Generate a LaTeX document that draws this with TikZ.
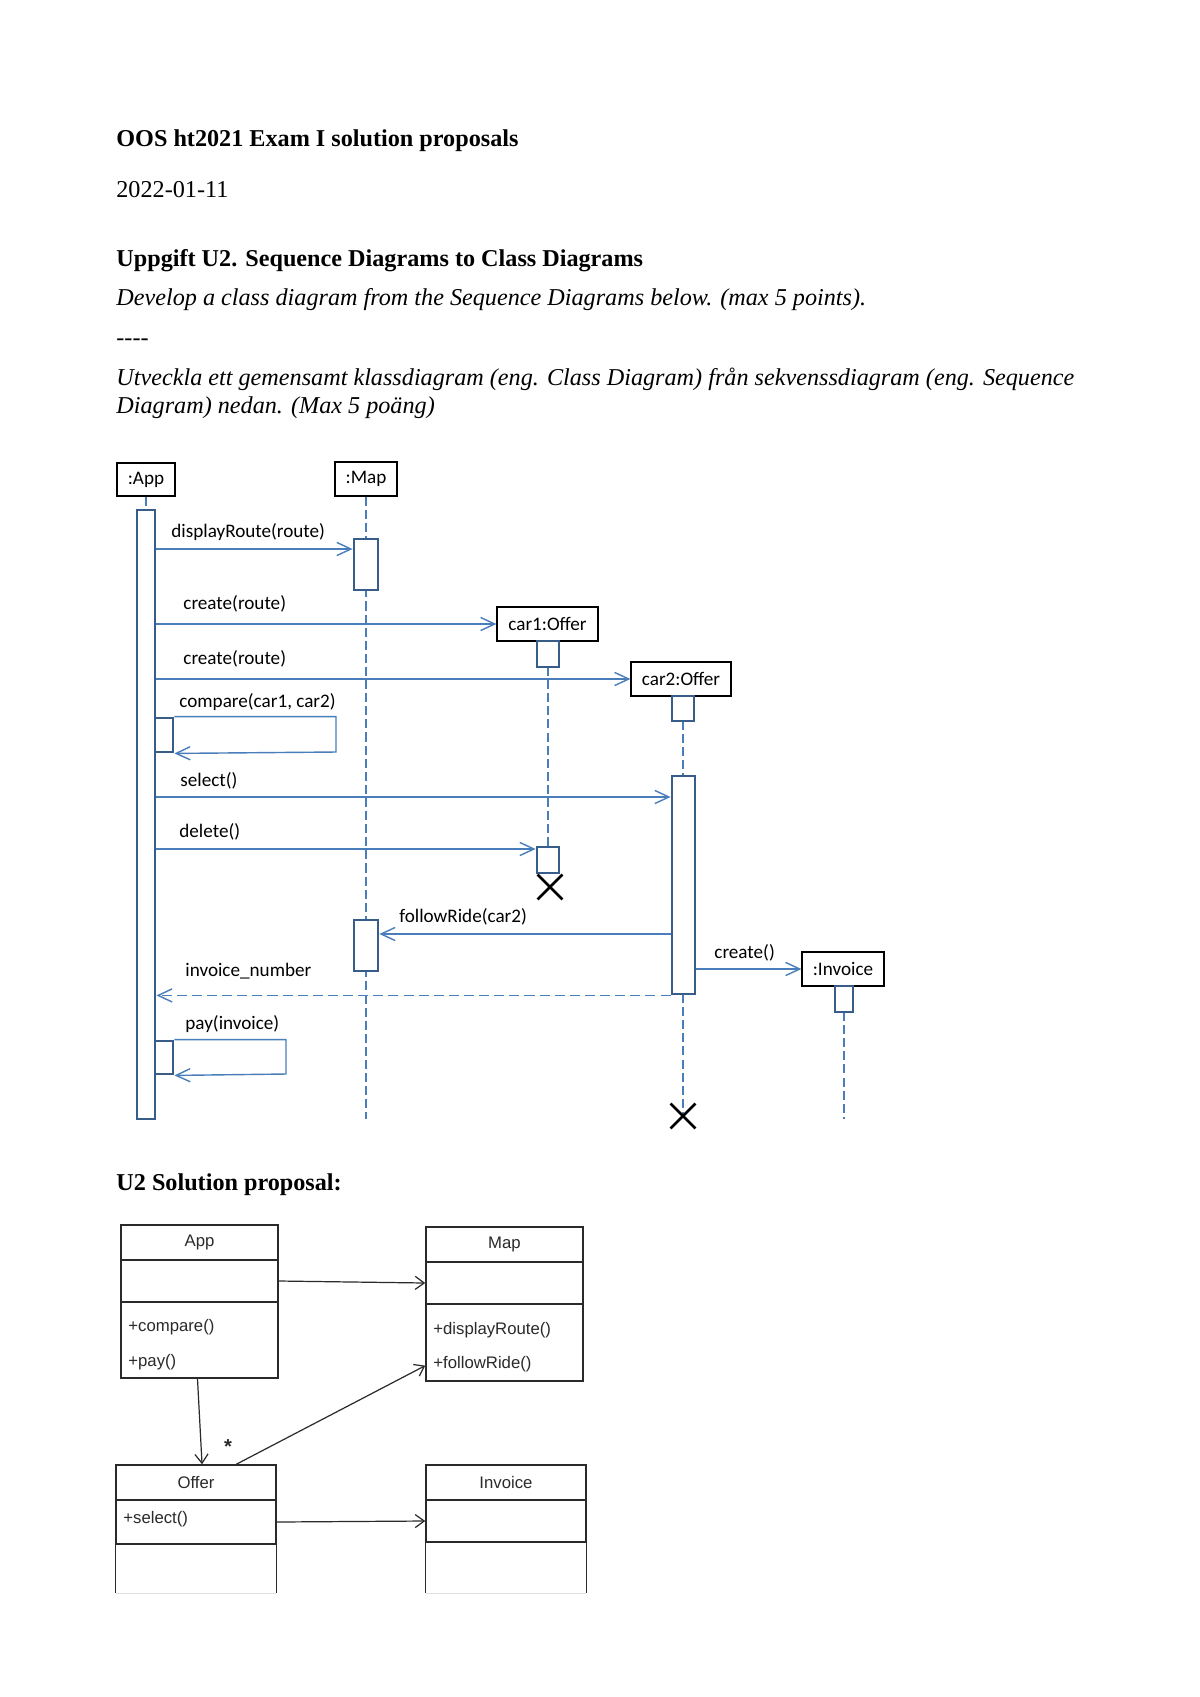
\documentclass[tikz,border=0pt]{standalone}
\usepackage{fontspec}
\setmainfont{Liberation Serif}
\newfontfamily\calibfont{Carlito}
\newfontfamily\helvfont{Liberation Sans}
\usetikzlibrary{arrows.meta,fit,shapes.misc}
\definecolor{msgblue}{HTML}{4A7EBB}
\definecolor{actblue}{HTML}{385D8A}
\definecolor{umlgray}{HTML}{2A2A2A}

\begin{document}
\begin{tikzpicture}
  [x=0.4961pt,y=-0.4961pt]
      \tikzstyle{body_text} = [anchor=base west, inner sep=0, font=\fontsize{12}{13.8}\selectfont]
      \tikzstyle{head_text} = [body_text, font=\fontsize{12}{13.8}\selectfont\bfseries]
      \tikzstyle{ital_text} = [body_text, font=\fontsize{12}{13.8}\selectfont\itshape]
      \tikzstyle{obj_font} = [inner sep=0, font=\calibfont\fontsize{9.5}{11}\selectfont]
      \tikzstyle{obj_style} = [draw=black, line width=0.6pt, fill=white, inner sep=0]
      \tikzstyle{act_style} = [draw=actblue, line width=1.4pt, fill=white, inner sep=0]
      \tikzstyle{msg_label} = [anchor=west, inner sep=0, font=\calibfont\fontsize{9.5}{11}\selectfont]
      \tikzstyle{life_style} = [draw=msgblue, line width=0.7pt, dash pattern=on 4.5pt off 2pt]
      \tikzstyle{msg_style} = [draw=msgblue, line width=0.7pt, -{Straight Barb[length=7pt,width=6.5pt]}]
      \tikzstyle{ret_style} = [msg_style, dash pattern=on 5pt off 2.5pt]
      \tikzstyle{kill_style} = [cross out, draw=black, line width=1.3pt, minimum size=11pt, inner sep=0]
      \tikzstyle{cls_font} = [inner sep=0, text=umlgray, font=\helvfont\fontsize{8.3}{10}\selectfont]
      \tikzstyle{cls_style} = [draw=umlgray, line width=0.75pt, inner sep=0]
      \tikzstyle{op_text} = [cls_font, anchor=west]
      \tikzstyle{assoc_style} = [draw=umlgray, line width=0.6pt, -{Straight Barb[length=4.5pt,width=6.5pt]}]

  \fill[white] (0,0) rectangle (1200,1697);
  \useasboundingbox (0,0) rectangle (1200,1697);

  % page text
  \node[head_text] (title) at (116,146) {OOS ht2021 Exam I solution proposals};
  \node[body_text] (date) at (116,197) {2022-01-11};
  \node[head_text] (task) at (116,266) {Uppgift U2. Sequence Diagrams to Class Diagrams};
  \node[ital_text] (taskEn) at (116,305) {Develop a class diagram from the Sequence Diagrams below. (max 5 points).};
  \node[body_text] (sep) at (116,345) {{-}{-}{-}{-}};
  \node[ital_text] (taskSv1) at (116,385) {Utveckla ett gemensamt klassdiagram (eng. Class Diagram) från sekvenssdiagram (eng. Sequence};
  \node[ital_text] (taskSv2) at (116,413) {Diagram) nedan. (Max 5 poäng)};
  \node[head_text] (sol) at (116,1190) {U2 Solution proposal:};

  % sequence diagram: objects
  \node[obj_style, fit={(117,463) (175,496)}, label={[obj_font]center:{:App}}] (appO) {};
  \node[obj_style, fit={(335,462) (397,496)}, label={[obj_font]center:{:Map}}] (mapO) {};
  \node[obj_style, fit={(497,607) (598,641)}, label={[obj_font]center:{car1:Offer}}] (car1O) {};
  \node[obj_style, fit={(631,662) (731,696)}, label={[obj_font]center:{car2:Offer}}] (car2O) {};
  \node[obj_style, fit={(802,952) (884,986)}, label={[obj_font]center:{:Invoice}}] (invO) {};

  \coordinate (mapEnd) at (366,1119);
  \coordinate (invEnd) at (844,1119);

  % lifelines
  \draw[life_style] (appO.south) -- (146,510);
  \draw[life_style] (mapO.south) -- (mapEnd);
  \draw[life_style] (548,667) -- (548,847);
  \draw[life_style] (683,721) -- (683,776);
  \draw[life_style] (683,994) -- (683,1116);
  \draw[life_style] (844,1012) -- (invEnd);

  % activations
  \node[act_style, fit={(137,510) (155,1119)}] (appA) {};
  \node[act_style, fit={(354,539) (378,590)}] (mapA1) {};
  \node[act_style, fit={(354,920) (378,971)}] (mapA2) {};
  \node[act_style, fit={(537,641) (559,667)}] (car1A1) {};
  \node[act_style, fit={(537,847) (559,873)}] (car1A2) {};
  \node[act_style, fit={(672,696) (694,721)}] (car2A1) {};
  \node[act_style, fit={(672,776) (695,994)}] (car2A2) {};
  \node[act_style, fit={(835,986) (853,1012)}] (invA) {};
  \node[act_style, fit={(155,718) (173,752)}] (cmpA) {};
  \node[act_style, fit={(155,1041) (173,1074)}] (payA) {};

  \node[kill_style] (car1X) at (550,887) {};
  \node[kill_style] (car2X) at (683,1116) {};

  % messages
  \coordinate (cmpR) at (336,752);
  \coordinate (payR) at (286,1074);
  \draw[msg_style] (appA.east |- 0,549) -- (mapA1.west |- 0,549);
  \draw[msg_style] (appA.east |- car1O.west) -- (car1O.west);
  \draw[msg_style] (appA.east |- car2O.west) -- (car2O.west);
  \draw[msg_style] (cmpA.north east) -| (cmpR) -- (cmpA.south east);
  \draw[msg_style] (appA.east |- 0,797) -- (car2A2.west |- 0,797);
  \draw[msg_style] (appA.east |- 0,849) -- (car1A2.west |- 0,849);
  \draw[msg_style] (car2A2.west |- 0,934) -- (mapA2.east |- 0,934);
  \draw[msg_style] (car2A2.east |- invO.west) -- (invO.west);
  \draw[ret_style] (car2A2.south west) -- (appA.east |- car2A2.south west);
  \draw[msg_style] (payA.north east) -| (payR) -- (payA.south east);

  \node[msg_label] (lDisp) at (171,532) {displayRoute(route)};
  \node[msg_label] (lCreate1) at (183,604) {create(route)};
  \node[msg_label] (lCreate2) at (183,659) {create(route)};
  \node[msg_label] (lCmp) at (179,702) {compare(car1, car2)};
  \node[msg_label] (lSel) at (180,781) {select()};
  \node[msg_label] (lDel) at (179,832) {delete()};
  \node[msg_label] (lFollow) at (399,917) {followRide(car2)};
  \node[msg_label] (lInvNr) at (185,971) {invoice\_number};
  \node[msg_label] (lPay) at (185,1024) {pay(invoice)};
  \node[msg_label] (lCreate3) at (714,953) {create()};

  % class diagram
  \node[cls_style, fit={(121,1225) (278,1260)}, label={[cls_font]center:App}] (appN) {};
  \node[cls_style, fit={(121,1260) (278,1302)}] (appV) {};
  \node[cls_style, fit={(121,1302) (278,1378)}] (appM) {};
  \node[cls_style, fit={(426,1227) (583,1262)}, label={[cls_font]center:Map}] (mapN) {};
  \node[cls_style, fit={(426,1262) (583,1304)}] (mapV) {};
  \node[cls_style, fit={(426,1304) (583,1381)}] (mapM) {};
  \node[cls_style, fit={(116,1465) (276,1500)}, label={[cls_font]center:Offer}] (offN) {};
  \node[cls_style, fit={(116,1500) (276,1544)}] (offM) {};
  \node[inner sep=0, fit={(116,1544) (276,1593)}] (offE) {};
  \node[cls_style, fit={(426,1465) (586,1500)}, label={[cls_font]center:Invoice}] (invN) {};
  \node[cls_style, fit={(426,1500) (586,1542)}] (invV) {};
  \node[inner sep=0, fit={(426,1542) (586,1593)}] (invE) {};
  \draw[umlgray, line width=0.75pt] (offE.north west) -- (offE.south west) (offE.north east) -- (offE.south east);
  \draw[umlgray, line width=0.75pt] (invE.north west) -- (invE.south west) (invE.north east) -- (invE.south east);
  \draw[black!12, line width=0.6pt] (offE.south west) -- (offE.south east) (invE.south west) -- (invE.south east);

  \node[op_text] (opCmp) at (128,1327) {+compare()};
  \node[op_text] (opPay) at (128,1362) {+pay()};
  \node[op_text] (opDisp) at (433,1330) {+displayRoute()};
  \node[op_text] (opFollow) at (433,1364) {+followRide()};
  \node[op_text] (opSel) at (123,1519) {+select()};

  \draw[assoc_style] (appV.east) -- (mapV.west);
  \draw[assoc_style] ([xshift=-1pt]appM.south) -- ([xshift=3pt]offN.north);
  \draw[assoc_style] ([xshift=20pt]offN.north) -- ([yshift=8pt]mapM.south west);
  \draw[assoc_style] (offM.east) -- (invV.west);
  \node[inner sep=0, text=umlgray, font=\helvfont\fontsize{10}{12}\selectfont\bfseries] (mult) at (228,1447) {*};
\end{tikzpicture}
\end{document}
